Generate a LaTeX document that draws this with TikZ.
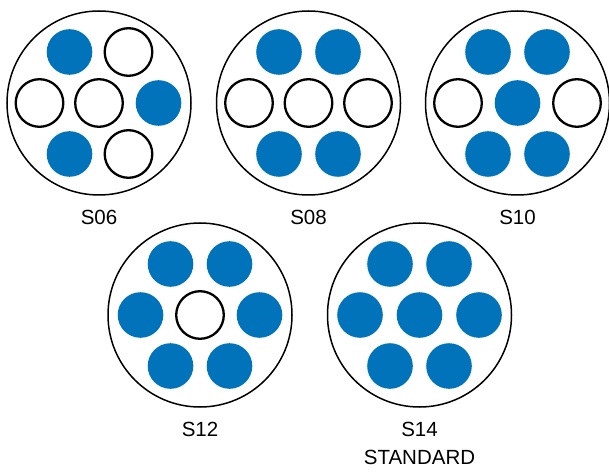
\documentclass[tikz,border=0pt]{standalone}
\usepackage{fontspec}
\setmainfont{Liberation Sans}
\usetikzlibrary{positioning}
\definecolor{PinBlue}{HTML}{0073BB}
\tikzset{
  shell/.style={circle, draw=black, line width=1.5pt, minimum size=184pt, inner sep=0pt},
  pinbase/.style={circle, minimum size=45.6pt, inner sep=0pt},
  pinon/.style={pinbase, fill=PinBlue},
  pinoff/.style={pinbase, draw=black, line width=2.3pt, fill=white, minimum size=47.6pt},
  tag/.style={inner sep=0pt, align=center, font=\fontsize{20.5}{28}\selectfont},
}
\begin{document}
\begin{tikzpicture}[x=1pt,y=1pt]
  \useasboundingbox (0,0) rectangle (609,474);
  % shells, pin order: tl tr l c r bl br
  \foreach \nm/\cx/\cy/\pa/\pb/\pc/\pd/\pe/\pf/\pg in {
      s06/99/371/on/off/off/off/on/on/off,
      s08/308.5/371/on/on/off/off/off/on/on,
      s10/517.5/371/on/on/off/on/off/on/on,
      s12/200/159/on/on/on/off/on/on/on,
      s14/419.5/159/on/on/on/on/on/on/on}{
    \node[shell] (\nm) at (\cx,\cy) {};
    \node[pin\pa] (\nm-tl) at ([shift={(-29.5,51)}]\nm.center) {};
    \node[pin\pb] (\nm-tr) at ([shift={(29.5,51)}]\nm.center) {};
    \node[pin\pc] (\nm-l) at ([shift={(-59.5,0)}]\nm.center) {};
    \node[pin\pd] (\nm-c) at (\nm.center) {};
    \node[pin\pe] (\nm-r) at ([shift={(59.5,0)}]\nm.center) {};
    \node[pin\pf] (\nm-bl) at ([shift={(-29.5,-51)}]\nm.center) {};
    \node[pin\pg] (\nm-br) at ([shift={(29.5,-51)}]\nm.center) {};
  }
  % labels
  \node[tag, below=14pt of s06] (l06) {S06};
  \node[tag, below=14pt of s08] (l08) {S08};
  \node[tag, below=14pt of s10] (l10) {S10};
  \node[tag, below=14pt of s12] (l12) {S12};
  \node[tag, below=14pt of s14] (l14) {S14\\STANDARD};
\end{tikzpicture}
\end{document}
